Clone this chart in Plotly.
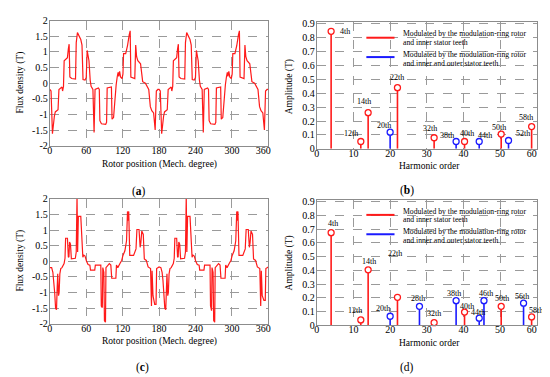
import plotly.graph_objects as go

# ---------------- DATA ----------------
# (a) flux density waveform, rotor position (deg) vs flux density (T)
A_DEG = [0, 2, 4.3, 6, 7.5, 9, 13.5, 15, 18, 20, 21, 22.5, 23.6, 27, 29, 30.5, 31.8, 33, 36, 42.3,
         43.5, 45.5, 47.5, 51, 53, 54.7, 58, 60, 61.5, 62.5, 64.5, 66.5, 68, 71, 72.9, 74.5, 80, 81.5,
         82.5, 85, 92, 93.5, 94.5, 101.5, 102.5, 105, 106.7, 107.5, 109.3, 111, 112.5, 113.5, 115,
         116.5, 119, 120.5, 121.5, 125, 128, 130.8, 132.4, 133.5, 140, 141.5, 143, 145, 149.5, 151.5,
         153, 157.5, 160, 163, 165.6, 168, 171, 173.6, 175.5, 178,
         180, 182, 184.3, 186, 187.5, 189, 193.5, 195, 198, 200, 201, 202.5, 203.6, 207, 209, 210.5,
         211.8, 213, 216, 222.3, 223.5, 225.5, 227.5, 231, 233, 234.7, 238, 240, 241.5, 242.5, 244.5,
         246.5, 248, 251, 252.9, 254.5, 260, 261.5, 262.5, 265, 272, 273.5, 274.5, 281.5, 282.5, 285,
         286.7, 287.5, 289.3, 291, 292.5, 293.5, 295, 296.5, 299, 300.5, 301.5, 305, 308, 310.8, 312.4,
         313.5, 320, 321.5, 323, 325, 329.5, 331.5, 333, 337.5, 340, 343, 345.6, 348, 351, 353.6, 355.5,
         358, 360]
A_VAL = [-0.2, -0.25, -1.62, -1.2, -1.05, -0.92, -0.85, -0.2, -0.15, -0.12, -0.25, -0.1, 0.72, 0.78,
         0.82, 1.1, 1.25, 0.2, 0.15, 0.13, 1.3, 1.62, 1.55, 1.4, 1.22, 0.12, 0.1, 0.18, 1.05, 0.9, 0.72,
         0.1, -0.1, -0.2, -1.58, -0.2, -0.15, -0.2, -1.2, -1.3, -1.32, -1.25, -0.15, -0.12, -1.15, -1.1,
         -0.6, -0.25, -0.05, 0.2, 0.35, 0.22, 0.38, 0.2, 0.15, 0.3, 0.95, 0.95, 1.2, 1.55, 1.68, 0.2,
         0.15, 1.22, 0.85, 0.72, 0.62, 0.3, 0.05, 0.0, -0.1, -0.2, -0.75, -0.88, -0.95, -1.5, -0.25, -0.2,
         -0.2, -0.25, -1.62, -1.2, -1.05, -0.92, -0.85, -0.2, -0.15, -0.12, -0.25, -0.1, 0.72, 0.78,
         0.82, 1.1, 1.25, 0.2, 0.15, 0.13, 1.3, 1.62, 1.55, 1.4, 1.22, 0.12, 0.1, 0.18, 1.05, 0.9, 0.72,
         0.1, -0.1, -0.2, -1.58, -0.2, -0.15, -0.2, -1.2, -1.3, -1.32, -1.25, -0.15, -0.12, -1.15, -1.1,
         -0.6, -0.25, -0.05, 0.2, 0.35, 0.22, 0.38, 0.2, 0.15, 0.3, 0.95, 0.95, 1.2, 1.55, 1.68, 0.2,
         0.15, 1.22, 0.85, 0.72, 0.62, 0.3, 0.05, 0.0, -0.1, -0.2, -0.75, -0.88, -0.95, -1.5, -0.25, -0.2,
         -0.2]

# (c) flux density waveform
C_DEG = [0, 3, 5, 6.4, 8, 9.5, 11, 12, 13, 14.3, 15.3, 16.5, 18, 20, 23.5, 25, 26, 29, 30.5, 31.5,
         32.5, 34, 35.5, 42, 43.5, 44.8, 45.8, 47, 51, 54.4, 56, 58, 60.5, 63, 66, 67, 74, 75, 84,
         84.8, 86.5, 87.3, 89, 90, 91.7, 92.5, 98, 100.5, 102, 108.8, 109.8, 112, 116, 118.4, 120.5,
         123.7, 126.4, 128, 129, 130, 131.7, 138, 142, 143.5, 147, 148.8, 150, 151.5, 154, 155.7, 159,
         162, 166, 167.5, 168.5, 170, 172.8, 175, 176,
         180, 183, 185, 186.4, 188, 189.5, 191, 192, 193, 194.3, 195.3, 196.5, 198, 200, 203.5, 205,
         206, 209, 210.5, 211.5, 212.5, 214, 215.5, 222, 223.5, 224.8, 225.8, 227, 231, 234.4, 236,
         238, 240.5, 243, 246, 247, 254, 255, 264, 264.8, 266.5, 267.3, 269, 270, 271.7, 272.5, 278,
         280.5, 282, 288.8, 289.8, 292, 296, 298.4, 300.5, 303.7, 306.4, 308, 309, 310, 311.7, 318,
         322, 323.5, 327, 328.8, 330, 331.5, 334, 335.7, 339, 342, 346, 347.5, 348.5, 350, 352.8, 355,
         356, 360]
C_VAL = [-0.2, -0.2, -0.35, -0.6, -1.0, -1.5, -1.55, -0.9, -0.4, -1.1, -1.0, -0.4, -0.23, -0.2, -0.07,
         0.1, 0.74, 0.74, 0.13, 0.15, 0.62, 0.55, 0.08, 0.1, 0.3, 2.1, 0.3, 1.44, 1.44, 0.13, 0.2, 0.17,
         0.0, -0.1, -0.12, -0.28, -0.28, -0.12, -0.12, -1.43, -1.48, -0.2, -0.35, -1.9, -1.95, -0.2,
         -0.07, -0.12, -0.54, -0.54, -0.12, -0.2, -0.05, 0.03, 0.19, 0.34, 0.66, 1.6, 1.3, 1.6, 0.19,
         0.19, 0.4, 1.02, 1.02, 0.45, 0.6, 0.97, 0.86, 0.08, 0.03, -0.18, -0.23, -1.43, -0.3, -1.1,
         -1.38, -1.38, -0.23,
         -0.18, -0.2, -0.35, -0.6, -1.0, -1.5, -1.55, -0.9, -0.4, -1.1, -1.0, -0.4, -0.23, -0.2, -0.07,
         0.1, 0.74, 0.74, 0.13, 0.15, 0.62, 0.55, 0.08, 0.1, 0.3, 2.1, 0.3, 1.44, 1.44, 0.13, 0.2, 0.17,
         0.0, -0.1, -0.12, -0.28, -0.28, -0.12, -0.12, -1.43, -1.58, -0.2, -0.35, -1.9, -1.95, -0.2,
         -0.07, -0.12, -0.54, -0.54, -0.12, -0.2, -0.05, 0.03, 0.19, 0.34, 0.66, 1.6, 1.3, 1.6, 0.19,
         0.19, 0.4, 1.02, 1.02, 0.45, 0.6, 0.97, 0.86, 0.08, 0.03, -0.18, -0.23, -1.43, -0.3, -1.1,
         -1.25, -1.25, -0.23, -0.18]

# (b) harmonic spectrum (positions)
B_RED_ORDER = [3.9, 12, 14, 22, 32, 40.3, 50.3, 58.6]
B_RED_AMP = [0.845, 0.053, 0.26, 0.44, 0.08, 0.053, 0.106, 0.16]
B_RED_LABEL = ["4th", "12th", "14th", "22th", "32th", "40th", "50th", "58th"]
B_BLUE_ORDER = [20, 38, 44.3, 52.3]
B_BLUE_AMP = [0.12, 0.053, 0.053, 0.06]
B_BLUE_LABEL = ["20th", "38th", "44th", "52th"]

# (d) harmonic spectrum
D_RED_ORDER = [3.9, 12, 14, 22, 32, 40.3, 50.3, 58.6]
D_RED_AMP = [0.675, 0.04, 0.405, 0.205, 0.02, 0.097, 0.139, 0.062]
D_RED_LABEL = ["4th", "12th", "14th", "22th", "32th", "40th", "50th", "58th"]
D_BLUE_ORDER = [20, 28, 38, 44.3, 45.6, 56.4]
D_BLUE_AMP = [0.067, 0.139, 0.18, 0.053, 0.18, 0.162]
D_BLUE_LABEL = ["20th", "28th", "38th", "44th", "46th", "56th"]

NB = "\u00a0" * 4  # the last tick label sits left-shifted in the reference
WAVE_X_TICKS = [0, 60, 120, 180, 240, 300, 360]
WAVE_X_TEXT = ["0", "60", "120", "180", "240", "300", "360" + NB]
WAVE_Y_TICKS = [2, 1.5, 1, 0.5, 0, -0.5, -1, -1.5, -2]
WAVE_Y_TEXT = ["2", "1.5", "1", "0.5", "0", "-0.5", "-1", "-1.5", "-2"]
HARM_X_TICKS = [0, 10, 20, 30, 40, 50, 60]
HARM_X_TEXT = ["0", "10", "20", "30", "40", "50", "60" + NB]
HARM_Y_TICKS = [0, 0.1, 0.2, 0.3, 0.4, 0.5, 0.6, 0.7, 0.8, 0.9]
HARM_Y_TEXT = ["0", "0.1", "0.2", "0.3", "0.4", "0.5", "0.6", "0.7", "0.8", "0.9"]

LEGEND_TEXT_RED = ["Modulated by the modulation-ring rotor", "and inner stator teeth"]
LEGEND_TEXT_BLUE = ["Modulated by the modulation-ring rotor", "and inner and outer stator teeth"]
WAVE_XTITLE = "Rotor position (Mech. degree)"
WAVE_YTITLE = "Flux density (T)"
HARM_XTITLE = "Harmonic order"
HARM_YTITLE = "Amplitude (T)"
CAPTIONS = ["(<b>a</b>)", "(<b>b</b>)", "(<b>c</b>)", "(d)"]

# ---------------- STYLE / LAYOUT HELPERS ----------------
W, H = 550, 377
FONT = "Liberation Serif"
RED = "#ff1a1a"
BLUE = "#1a1aff"
GRID = "#9a9a9a"
FRAME = "#8c8c8c"

def px(x):
    return x / W

def py(y):
    return 1 - y / H

# panel frames in pixels: (left, top, right, bottom)
PANELS = {
    "a": (40, 7, 265, 136),
    "b": (315, 8.5, 541.5, 139.3),
    "c": (40, 191, 265, 320),
    "d": (315, 192.5, 541.5, 321.7),
}

# label offsets (xshift, yshift) in px, per marker
B_RED_OFF = [(14, 0), (-10, 8), (-4, 11), (0, 10), (-4, 9), (2, 8), (-2, 7), (-6, 9)]
B_BLUE_OFF = [(-6, 7), (-9, 6), (6, 6), (14, 7)]
D_RED_OFF = [(2, 9), (-6, 9), (1, 8), (-2, 44), (0, 9), (2, 6), (1, 8), (4, 6)]
D_BLUE_OFF = [(-7, 8), (-1, 8), (-2, 7), (-1, 6), (2, 7), (-2, 7)]

fig = go.Figure()

axis_common = dict(showline=True, mirror=True, linecolor=FRAME, linewidth=1,
                   showgrid=True, gridcolor=GRID, griddash="dash", gridwidth=0.8,
                   zeroline=False, ticks="", tickfont=dict(family=FONT, size=10, color="black"))

names = ["a", "b", "c", "d"]
for i, k in enumerate(names):
    l, t, r, b = PANELS[k]
    sfx = "" if i == 0 else str(i + 1)
    xa = dict(axis_common, domain=[px(l), px(r)], anchor="y" + sfx, ticklabelstandoff=-5)
    ya = dict(axis_common, domain=[py(b), py(t)], anchor="x" + sfx, ticklabelstandoff=-1)
    if k in ("a", "c"):
        xa.update(range=[0, 360], tickvals=WAVE_X_TICKS, ticktext=WAVE_X_TEXT)
        ya.update(range=[-2, 2], tickvals=WAVE_Y_TICKS, ticktext=WAVE_Y_TEXT)
    else:
        xa.update(range=[0, 60], tickvals=HARM_X_TICKS, ticktext=HARM_X_TEXT)
        ya.update(range=[0, 0.91], tickvals=HARM_Y_TICKS, ticktext=HARM_Y_TEXT)
    fig.layout["xaxis" + sfx] = xa
    fig.layout["yaxis" + sfx] = ya

# waveforms
fig.add_trace(go.Scatter(x=A_DEG, y=A_VAL, mode="lines", line=dict(color=RED, width=1.2),
                         xaxis="x", yaxis="y", showlegend=False, cliponaxis=True))
fig.add_trace(go.Scatter(x=C_DEG, y=C_VAL, mode="lines", line=dict(color=RED, width=1.2),
                         xaxis="x3", yaxis="y3", showlegend=False, cliponaxis=True))

def stems(orders, amps, color, xa, ya):
    fig.add_trace(go.Scatter(
        x=orders, y=amps, mode="markers", xaxis=xa, yaxis=ya, showlegend=False,
        marker=dict(symbol="circle", size=6, color="white", line=dict(color=color, width=1.3)),
        error_y=dict(type="data", symmetric=False, array=[0] * len(amps), arrayminus=amps,
                     color=color, thickness=1.6, width=0),
        cliponaxis=False))

stems(B_RED_ORDER, B_RED_AMP, RED, "x2", "y2")
stems(B_BLUE_ORDER, B_BLUE_AMP, BLUE, "x2", "y2")
stems(D_RED_ORDER, D_RED_AMP, RED, "x4", "y4")
stems(D_BLUE_ORDER, D_BLUE_AMP, BLUE, "x4", "y4")

ann = []

def labels(orders, amps, texts, offs, xr, yr):
    for o, a, t, (dx, dy) in zip(orders, amps, texts, offs):
        ann.append(dict(x=o, y=a, xref=xr, yref=yr, text=t, showarrow=False,
                        xshift=dx, yshift=dy, font=dict(family=FONT, size=8, color="black")))

labels(B_RED_ORDER, B_RED_AMP, B_RED_LABEL, B_RED_OFF, "x2", "y2")
labels(B_BLUE_ORDER, B_BLUE_AMP, B_BLUE_LABEL, B_BLUE_OFF, "x2", "y2")
labels(D_RED_ORDER, D_RED_AMP, D_RED_LABEL, D_RED_OFF, "x4", "y4")
labels(D_BLUE_ORDER, D_BLUE_AMP, D_BLUE_LABEL, D_BLUE_OFF, "x4", "y4")

def text(x, y, s, size=9.5, angle=0, xanchor="center"):
    ann.append(dict(x=px(x), y=py(y), xref="paper", yref="paper", text=s, showarrow=False,
                    textangle=angle, xanchor=xanchor, yanchor="middle",
                    font=dict(family=FONT, size=size, color="black")))

# axis titles
text(152.5, 155, WAVE_XTITLE)
text(10, 71, WAVE_YTITLE, angle=-90)
text(152.5, 338, WAVE_XTITLE)
text(10, 255, WAVE_YTITLE, angle=-90)
text(431, 157, HARM_XTITLE)
text(287, 75, HARM_YTITLE, angle=-90)
text(431, 340, HARM_XTITLE)
text(287, 257, HARM_YTITLE, angle=-90)

# captions
text(132, 183, CAPTIONS[0], size=11.5)
text(408, 182, CAPTIONS[1], size=11.5)
text(135, 365, CAPTIONS[2], size=11.5)
text(408, 365, CAPTIONS[3], size=11.5)

shapes = []

def legend(top):
    shapes.append(dict(type="rect", xref="paper", yref="paper", x0=px(362), x1=px(532),
                       y0=py(top + 42), y1=py(top + 5), fillcolor="white", line=dict(width=0),
                       layer="below"))
    shapes.append(dict(type="line", xref="paper", yref="paper", x0=px(366), x1=px(395),
                       y0=py(top + 16.5), y1=py(top + 16.5), line=dict(color=RED, width=2)))
    shapes.append(dict(type="line", xref="paper", yref="paper", x0=px(366), x1=px(395),
                       y0=py(top + 36.5), y1=py(top + 36.5), line=dict(color=BLUE, width=2)))
    text(401.5, top + 12.5, LEGEND_TEXT_RED[0], size=7.7, xanchor="left")
    text(401.5, top + 21.5, LEGEND_TEXT_RED[1], size=7.7, xanchor="left")
    text(401.5, top + 33.5, LEGEND_TEXT_BLUE[0], size=7.7, xanchor="left")
    text(401.5, top + 43, LEGEND_TEXT_BLUE[1], size=7.7, xanchor="left")

legend(8)
legend(191)

fig.update_layout(width=W, height=H, margin=dict(l=0, r=0, t=0, b=0),
                  paper_bgcolor="white", plot_bgcolor="white",
                  annotations=ann, shapes=shapes, showlegend=False,
                  font=dict(family=FONT, size=10, color="black"))

fig.write_html("out.html")
